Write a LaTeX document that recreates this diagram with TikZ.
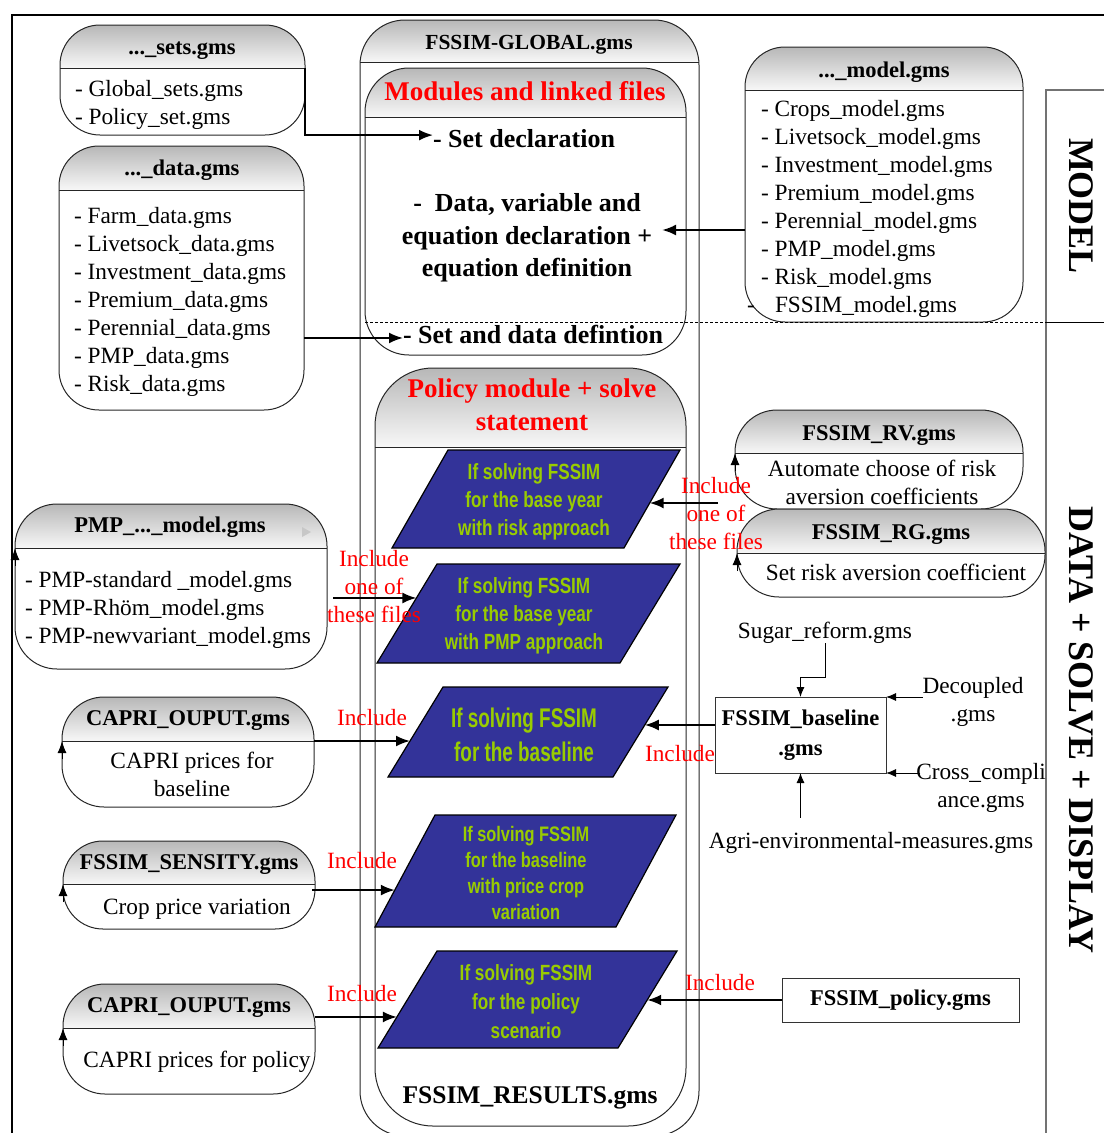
\documentclass[tikz,border=0pt]{standalone}
\usepackage{fontspec}
\setmainfont{Liberation Serif}
\newfontfamily\condA[FakeStretch=0.78]{Liberation Sans}
\newfontfamily\condB[FakeStretch=0.70]{Liberation Sans}
\usetikzlibrary{arrows.meta,calc}
\definecolor{navy}{HTML}{333399}
\definecolor{lime}{HTML}{99CC00}
\definecolor{incred}{HTML}{FF0000}
\colorlet{hdrtop}{black!28}
\colorlet{hdrbot}{black!3}

% rounded file box with a shaded header band
% #1 name, #2 x1, #3 y1, #4 x2, #5 y2, #6 y of header line, #7 corner radius
\newcommand\hdrbox[7]{%
  \begin{scope}
    \clip[rounded corners=#7pt] (#2,#3) rectangle (#4,#5);
    \shade[top color=hdrtop, bottom color=hdrbot] (#2,#3) rectangle (#4,#6);
  \end{scope}
  \node[boxline, rounded corners=#7pt, minimum width={#4-#2}, minimum height={#5-#3}]
    (#1) at ({(#2+#4)/2},{(#3+#5)/2}) {};
  \draw[boxline] (#2,#6) coordinate (#1-hw) -- (#4,#6) coordinate (#1-he);
}

% list of file names, one per line
\newcommand\itemlist[4]{%
  \foreach \itm [count=\k] in {#4}{%
    \node[txt, anchor=base west] (#1-\k) at (#2,{#3+28*(\k-1)}) {\itm};}%
}

% parallelogram step: #1 name, #2 x of top-left, #3 top y, #4 x of top-right, #5 bottom y, #6 slant
\newcommand\parabox[6]{%
  \draw[para] (#2,#3) coordinate (#1-nw) -- (#4,#3) coordinate (#1-ne)
    -- ({#4-#6},#5) coordinate (#1-se) -- ({#2-#6},#5) coordinate (#1-sw) -- cycle;
}

\begin{document}
\begin{tikzpicture}[x=1pt,y=-1pt,
  boxline/.style={draw=black!85, line width=1pt, inner sep=0pt, outer sep=0pt},
  txt/.style={inner sep=0pt, outer sep=0pt, font=\fontsize{23.3}{28}\selectfont},
  ttl/.style={inner sep=0pt, outer sep=0pt, font=\fontsize{22.5}{27}\selectfont\bfseries},
  big/.style={inner sep=0pt, outer sep=0pt, font=\fontsize{26}{32.5}\selectfont\bfseries},
  redbig/.style={inner sep=0pt, outer sep=0pt, text=incred, font=\fontsize{27}{33}\selectfont\bfseries},
  inc/.style={txt, text=incred, align=center},
  para/.style={draw=black, line width=1.2pt, fill=navy},
  ptxt/.style={inner sep=0pt, outer sep=0pt, text=lime, align=center,
    font=\condA\bfseries\fontsize{22}{28}\selectfont},
  rect/.style={draw=black!80, line width=1pt, inner sep=0pt, outer sep=0pt},
  conn/.style={line width=2pt, -{Latex[length=14pt,width=11pt]}},
  sconn/.style={line width=1pt, -{Latex[length=10pt,width=8pt]}},
  tick/.style={line width=1pt, -{Latex[length=12pt,width=9pt]}},
  vlab/.style={rotate=-90, inner sep=0pt, font=\fontsize{36}{40}\selectfont\bfseries}
]
\useasboundingbox (0,0) rectangle (1104,1133);

% page frame and section rules
\draw[line width=2pt] (12,1134) -- (12,15) -- (1104,15);
\draw[black!55, line width=1.5pt] (1104,90) -- (1046,90) -- (1046,1134);
\draw[line width=1pt] (1046,322) -- (1104,322);

% main program file and its modules
\hdrbox{glob}{360}{20}{699}{1136}{62}{45}
\hdrbox{mods}{365}{68}{686}{355}{117}{44}
\hdrbox{polm}{375}{368}{686}{1126}{447}{58}

% input files, left column
\hdrbox{sets}{60}{25}{305}{135}{68}{40}
\hdrbox{data}{59}{146}{304}{410}{190}{40}
\hdrbox{pmp}{15}{504}{327}{669}{548}{42}
\hdrbox{capA}{62}{697}{314}{807}{741}{42}
\hdrbox{sens}{63}{841}{315}{929}{884}{40}
\hdrbox{capB}{63}{984}{315}{1094}{1028}{42}

% input files, right column
\hdrbox{model}{745}{47}{1023}{322}{90}{40}
\hdrbox{rv}{735}{410}{1023}{509}{453}{42}
\hdrbox{rg}{737}{509}{1045}{597}{553}{42}

% boundary between model part and run part
\draw[line width=0.8pt, dash pattern=on 3pt off 2pt] (365,322) -- (1046,322);

% run cases
\parabox{p1}{448}{450}{680}{548}{56}
\parabox{p2}{437}{564}{680}{663}{60}
\parabox{p3}{443}{687}{668}{777}{55}
\parabox{p4}{435}{815}{676}{927}{60}
\parabox{p5}{437}{951}{677}{1048}{59}

% plain rectangular files
\node[rect, align=center, minimum width=171, minimum height=76,
  font=\fontsize{22.5}{30}\selectfont\bfseries] (base) at (800.5,735) {FSSIM\_baseline\\.gms};
\node[rect, minimum width=237, minimum height=44,
  font=\fontsize{22.5}{27}\selectfont\bfseries] (pol) at (900.5,1000) {FSSIM\_policy.gms};

% titles and contents of the rounded boxes
\node[ttl, anchor=base, font=\fontsize{21.5}{25}\selectfont\bfseries] (glob-t) at (529,49) {FSSIM-GLOBAL.gms};
\node[redbig, anchor=base] (mods-t) at (525,100) {Modules and linked files};
\node[big, anchor=base west] (setdecl) at (433,147) {- Set declaration};
\node[big, align=center] (datavar) at (527,238) {-~~Data, variable and\\equation declaration +\\equation definition};
\node[big, anchor=base west] (setdata) at (403,343) {- Set and data defintion};
\node[redbig, align=center] (polm-t) at (532,405) {Policy module + solve\\statement};
\node[big, anchor=base, font=\fontsize{25.5}{30}\selectfont\bfseries] (res) at (530,1103) {FSSIM\_RESULTS.gms};

\node[ttl, anchor=base] (sets-t) at (182,54) {...\_sets.gms};
\itemlist{sets-i}{75}{96}{- Global\_sets.gms, - Policy\_set.gms}
\node[ttl, anchor=base] (data-t) at (182,175) {...\_data.gms};
\itemlist{data-i}{74}{223}{- Farm\_data.gms, - Livetsock\_data.gms, - Investment\_data.gms,
  - Premium\_data.gms, - Perennial\_data.gms, - PMP\_data.gms, - Risk\_data.gms}
\node[ttl, anchor=base] (model-t) at (884,77) {...\_model.gms};
\itemlist{model-i}{761}{116}{- Crops\_model.gms, - Livetsock\_model.gms, - Investment\_model.gms,
  - Premium\_model.gms, - Perennial\_model.gms, - PMP\_model.gms, - Risk\_model.gms}
\node[txt, anchor=base west] (model-d8) at (747,312) {-};
\node[txt, anchor=base west] (model-i8) at (775,312) {FSSIM\_model.gms};

\node[ttl, anchor=base] (pmp-t) at (170,532) {PMP\_...\_model.gms};
\itemlist{pmp-i}{25}{587}{- PMP-standard \_model.gms, - PMP-Rhöm\_model.gms, - PMP-newvariant\_model.gms}
\fill[black!22] (302,527) -- (311,532) -- (302,537) -- cycle;

\node[ttl, anchor=base] (rv-t) at (879,440) {FSSIM\_RV.gms};
\node[txt, align=center] (rv-x) at (882,482) {Automate choose of risk\\aversion coefficients};
\node[ttl, anchor=base] (rg-t) at (891,539) {FSSIM\_RG.gms};
\node[txt, anchor=base] (rg-x) at (896,580) {Set risk aversion coefficient};

\node[ttl, anchor=base] (capA-t) at (188,725) {CAPRI\_OUPUT.gms};
\node[txt, align=center] (capA-x) at (192,774) {CAPRI prices for\\baseline};
\node[ttl, anchor=base] (sens-t) at (189,869) {FSSIM\_SENSITY.gms};
\node[txt, anchor=base] (sens-x) at (197,914) {Crop price variation};
\node[ttl, anchor=base] (capB-t) at (189,1012) {CAPRI\_OUPUT.gms};
\node[txt, anchor=base] (capB-x) at (197,1067) {CAPRI prices for policy};

% texts of the run cases
\node[ptxt] (p1-t) at (534,502) {If solving FSSIM\\for the base year\\with risk approach};
\node[ptxt] (p2-t) at (524,616) {If solving FSSIM\\for the base year\\with PMP approach};
\node[ptxt, font=\condB\bfseries\fontsize{27}{34}\selectfont] (p3-t) at (524,735) {If solving FSSIM\\for the baseline};
\node[ptxt, font=\condA\bfseries\fontsize{21}{26}\selectfont] (p4-t) at (526,873) {If solving FSSIM\\for the baseline\\with price crop\\variation};
\node[ptxt, font=\condA\bfseries\fontsize{22}{29}\selectfont] (p5-t) at (526,1002) {If solving FSSIM\\for the policy\\scenario};

% files feeding the baseline file
\node[txt, anchor=base] (sugar) at (825,638) {Sugar\_reform.gms};
\node[txt, align=center] (dec) at (973,702) {Decoupled\\.gms};
\node[txt, align=center] (cross) at (981,788) {Cross\_compli\\ance.gms};
\node[txt, anchor=base] (agri) at (871,848) {Agri-environmental-measures.gms};

% vertical part labels
\node[vlab] (lmodel) at (1081,206) {MODEL};
\node[vlab] (ldata) at (1081,730) {DATA + SOLVE + DISPLAY};

% entry points on the run cases
\coordinate (p1-r) at ($(p1-ne)!0.541!(p1-se)$);
\coordinate (p2-l) at ($(p2-nw)!0.343!(p2-sw)$);
\coordinate (p3-l) at ($(p3-nw)!0.6!(p3-sw)$);
\coordinate (p3-r) at ($(p3-ne)!0.422!(p3-se)$);
\coordinate (p4-l) at ($(p4-nw)!0.67!(p4-sw)$);
\coordinate (p5-l) at ($(p5-nw)!0.68!(p5-sw)$);
\coordinate (p5-r) at ($(p5-ne)!0.505!(p5-se)$);

% connectors into the modules
\draw[conn] (sets-he) |- ($(setdecl.west)+(0,-3)$);
\coordinate (sdin) at ($(setdata.west)+(0,4)$);
\draw[conn] (data.east |- sdin) -- (sdin);
\coordinate (dvin) at ($(datavar.east)+(10,-8)$);
\draw[conn] (model.west |- dvin) -- (dvin);

% connectors into the run cases
\coordinate (rvtail) at ($(rv.west)+(-17,0)$);
\draw[conn] (rvtail |- p1-r) -- (p1-r);
\coordinate (pmptail) at ($(pmp.east)+(6,0)$);
\draw[conn] (pmptail |- p2-l) -- (p2-l);
\draw[conn] (capA.east |- p3-l) -- (p3-l);
\draw[conn] ($(sens.east |- p4-l)+(-3,0)$) -- (p4-l);
\draw[conn] (capB.east |- p5-l) -- (p5-l);
\draw[conn] (base.west |- p3-r) -- (p3-r);
\draw[conn] (pol.west |- p5-r) -- (p5-r);

% connectors into the baseline file
\draw[sconn] (sugar.south) -- ($(sugar.south |- base.north)+(0,-20)$) -| (base.north);
\draw[sconn] (dec.west |- base.north east) -- (base.north east);
\draw[sconn] ($(cross.west |- base.south east)+(4,0)$) -- (base.south east);
\draw[sconn] ($(agri.north -| base.south)+(0,-14)$) -- (base.south);

% small marks on the header lines
\foreach \b in {pmp,capA,sens,capB,rv,rg}{
  \draw[tick] ($(\b-hw)+(0,18)$) -- (\b-hw);
}

% include labels
\node[inc] (inc-rv) at (716,514) {Include\\one of\\these files};
\node[inc] (inc-pmp) at (374,587) {Include\\one of\\these files};
\node[inc, anchor=base] (inc-capA) at (372,725) {Include};
\node[inc, anchor=base] (inc-sens) at (362,868) {Include};
\node[inc, anchor=base] (inc-capB) at (362,1001) {Include};
\node[inc, anchor=base] (inc-base) at (680,761) {Include};
\node[inc, anchor=base] (inc-pol) at (720,990) {Include};
\end{tikzpicture}
\end{document}
